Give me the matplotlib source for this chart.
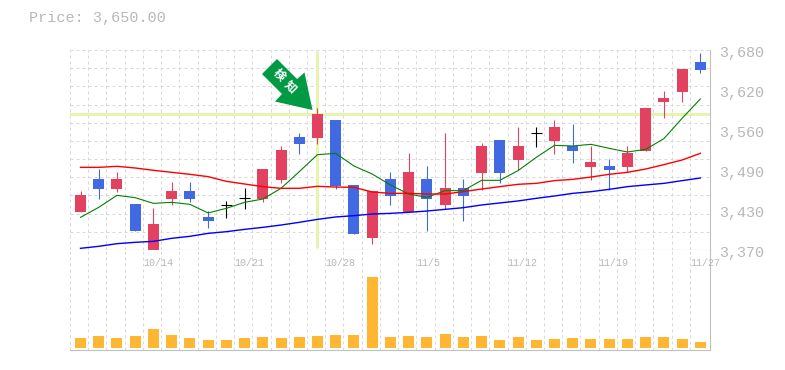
'''
Candlestick chart with moving averages and volume, 10/14 - 11/27
'''

import numpy as np
import matplotlib
matplotlib.use('Agg')
import matplotlib.pyplot as plt
from matplotlib.patches import Polygon
from matplotlib.transforms import Affine2D

title = 'Price: 3,650.00'
marker_label = '検知'

open_ = [3428.9, 3480.0, 3464.6, 3441.3, 3368.5, 3449.0, 3461.5, 3421.2, 3439.8, 3450.1, 3449.0, 3478.5,
         3545.2, 3543.6, 3571.5, 3470.8, 3388.6, 3480.0, 3428.9, 3480.0, 3439.8, 3466.1, 3489.4, 3540.5,
         3509.5, 3550.8, 3539.0, 3531.2, 3498.7, 3500.2, 3498.7, 3523.5, 3599.4, 3614.9, 3661.4]
high = [3461.5, 3495.6, 3490.9, 3441.3, 3435.1, 3475.4, 3475.4, 3430.5, 3446.0, 3466.1, 3495.6, 3531.2,
        3551.4, 3590.1, 3571.5, 3470.8, 3461.5, 3490.9, 3520.4, 3500.2, 3551.4, 3480.0, 3535.9, 3540.5,
        3560.7, 3560.7, 3571.5, 3565.3, 3531.2, 3511.1, 3531.2, 3590.1, 3616.5, 3650.6, 3675.4]
low = [3428.9, 3449.0, 3459.9, 3399.5, 3368.5, 3439.8, 3444.4, 3404.1, 3419.6, 3433.6, 3444.4, 3473.9,
       3518.8, 3534.3, 3464.6, 3394.8, 3379.3, 3439.8, 3428.9, 3399.5, 3433.6, 3415.0, 3463.0, 3473.9,
       3494.0, 3529.7, 3518.8, 3504.9, 3478.5, 3463.0, 3490.9, 3523.5, 3574.6, 3599.4, 3644.4]
close = [3455.3, 3464.6, 3480.0, 3399.5, 3410.3, 3461.5, 3449.0, 3415.0, 3439.8, 3450.1, 3495.6, 3525.0,
         3534.3, 3580.8, 3469.2, 3394.8, 3461.5, 3453.7, 3490.9, 3449.0, 3466.1, 3453.7, 3531.2, 3489.4,
         3531.2, 3550.8, 3560.7, 3523.5, 3506.4, 3494.0, 3520.4, 3590.1, 3605.6, 3650.6, 3649.0]

ma_short = [3420.6, 3436.1, 3454.7, 3451.1, 3442.3, 3443.9, 3440.8, 3427.4, 3434.6, 3443.9, 3449.0, 3465.6,
            3491.4, 3517.8, 3519.8, 3500.2, 3487.8, 3470.8, 3456.8, 3451.6, 3462.0, 3462.0, 3478.0, 3478.0,
            3493.0, 3513.6, 3532.2, 3531.2, 3533.8, 3527.6, 3521.9, 3526.0, 3542.6, 3574.1, 3604.1]
ma_mid = [3498.1, 3498.1, 3499.7, 3497.1, 3493.5, 3490.4, 3487.3, 3483.7, 3476.4, 3472.3, 3468.2, 3465.6,
          3465.6, 3468.7, 3467.6, 3467.1, 3459.9, 3457.8, 3457.8, 3456.8, 3456.8, 3460.4, 3464.5, 3468.2,
          3471.8, 3473.3, 3477.5, 3479.5, 3483.1, 3487.3, 3490.4, 3495.5, 3502.3, 3509.5, 3519.8]
ma_long = [3372.6, 3375.7, 3379.8, 3381.9, 3383.4, 3388.1, 3391.2, 3395.8, 3398.4, 3402.0, 3405.1, 3408.7,
           3412.9, 3417.5, 3421.2, 3423.2, 3425.8, 3426.8, 3428.4, 3430.4, 3433.0, 3435.6, 3439.8, 3442.9,
           3446.0, 3450.1, 3453.7, 3457.8, 3460.4, 3464.0, 3468.2, 3470.8, 3473.3, 3477.5, 3481.6]

volume = [30, 36, 30, 36, 57, 39, 30, 24, 24, 30, 33, 30, 33, 36, 39, 39, 213, 33,
          36, 33, 42, 33, 36, 24, 33, 24, 27, 30, 27, 27, 27, 33, 33, 27, 18]

price_labels = ['3,370', '3,430', '3,490', '3,560', '3,620', '3,680']
date_idx = [4, 9, 14, 19, 24, 29, 34]
date_labels = ['10/14', '10/21', '10/28', '11/5', '11/12', '11/19', '11/27']
cross_idx = 13
cross_price = 3580.8

open_, high, low, close = map(np.array, (open_, high, low, close))
x = np.arange(len(close))

up_col = '#e2425f'
down_col = '#4169e1'
grid_col = '#d8d8d8'
axis_col = '#c0c0c0'
text_col = '#b8b8b8'
cross_col = '#e6f4ad'
px = 0.72  # one pixel in points

W, H = 785, 370
fig = plt.figure(figsize=(W/100, H/100), dpi=100)
ax = fig.add_axes([70/W, 1-250/H, 640/W, 200/H])
axv = fig.add_axes([70/W, 1-350/H, 640/W, 100/H])

xlim = (-0.576, 34.53)
edges = np.arange(36) - 0.576

for a in (ax, axv):
    a.set_xlim(xlim)
    a.set_xticks(edges[:-1])
    a.tick_params(length=0, labelbottom=False, labelleft=False)
    a.grid(axis='x', color=grid_col, lw=px, ls=(0, (3, 3)))
    a.set_axisbelow(True)
    a.spines['left'].set_visible(False)
    a.spines['top'].set_visible(False)
    a.spines['right'].set_color(axis_col)
    a.spines['bottom'].set_color(axis_col)

# price panel
ax.set_ylim(3370, 3680)
ax.set_yticks(np.linspace(3370, 3680, 12)[1:])
ax.grid(axis='y', color=grid_col, lw=px, ls=(0, (3, 3)))

ax.axhline(cross_price, color=cross_col, lw=3*px, zorder=1.5)
ax.plot([cross_idx, cross_idx], [3373, 3678], color=cross_col, lw=3*px, zorder=1.5,
        solid_capstyle='butt')

colors = np.where(close > open_, up_col, np.where(close < open_, down_col, 'k'))
ax.vlines(x, low, high, colors=colors, lw=1.1*px, zorder=2)
body = close != open_
ax.bar(x[body], (close-open_)[body], bottom=open_[body], width=0.6, color=colors[body], lw=0, zorder=2.1)
ax.hlines(close[~body], x[~body]-0.3, x[~body]+0.3, colors='k', lw=1.1*px, zorder=2.1)

ax.plot(x, ma_short, color='#008000', lw=1.1*px, zorder=3)
ax.plot(x, ma_mid, color='#ff0000', lw=1.4*px, zorder=3)
ax.plot(x, ma_long, color='#0000ff', lw=1.4*px, zorder=3)

for val, lab in zip(np.linspace(3370, 3680, 6), price_labels):
    ax.annotate(lab, xy=(1, val), xycoords=('axes fraction', 'data'), xytext=(9, -2.7),
                textcoords='offset pixels', color=text_col, family='Liberation Mono',
                fontsize=10.8, ha='left', va='center', annotation_clip=False)

# volume panel
axv.set_ylim(-6, 294)
axv.set_yticks([])
axv.bar(x, volume, width=0.6, color='#ffb733', lw=0, zorder=2)
for i, lab in zip(date_idx, date_labels):
    axv.annotate(lab, xy=(edges[i], 1), xycoords=('data', 'axes fraction'), xytext=(0, -12.5),
                 textcoords='offset pixels', color=text_col, family='Liberation Mono',
                 fontsize=7.2, ha='left', va='center', annotation_clip=False)

fig.text(29/W, 1-18/H, title, color=text_col, family='Liberation Mono', fontsize=10.9,
         ha='left', va='center')

# arrow pointing at the flagged candle, in pixel coords from the top left
to_px = Affine2D().scale(1, -1).translate(0, H)
arrow = [(262, 74), (277, 59), (297, 79), (304.5, 72.5), (312.5, 110), (275, 101.5), (282, 94)]
fig.add_artist(Polygon(arrow, closed=True, fc='#009944', ec='none', transform=to_px, zorder=5))
for ch, (tx, ty) in zip(marker_label, [(279.5, 75), (290, 87)]):
    fig.text(tx/W, 1-ty/H, ch, color='white', family='Noto Sans CJK JP', fontsize=8.5,
             fontweight='bold', rotation=-45, ha='center', va='center', zorder=6)

fig.savefig('out.png', dpi=100)
